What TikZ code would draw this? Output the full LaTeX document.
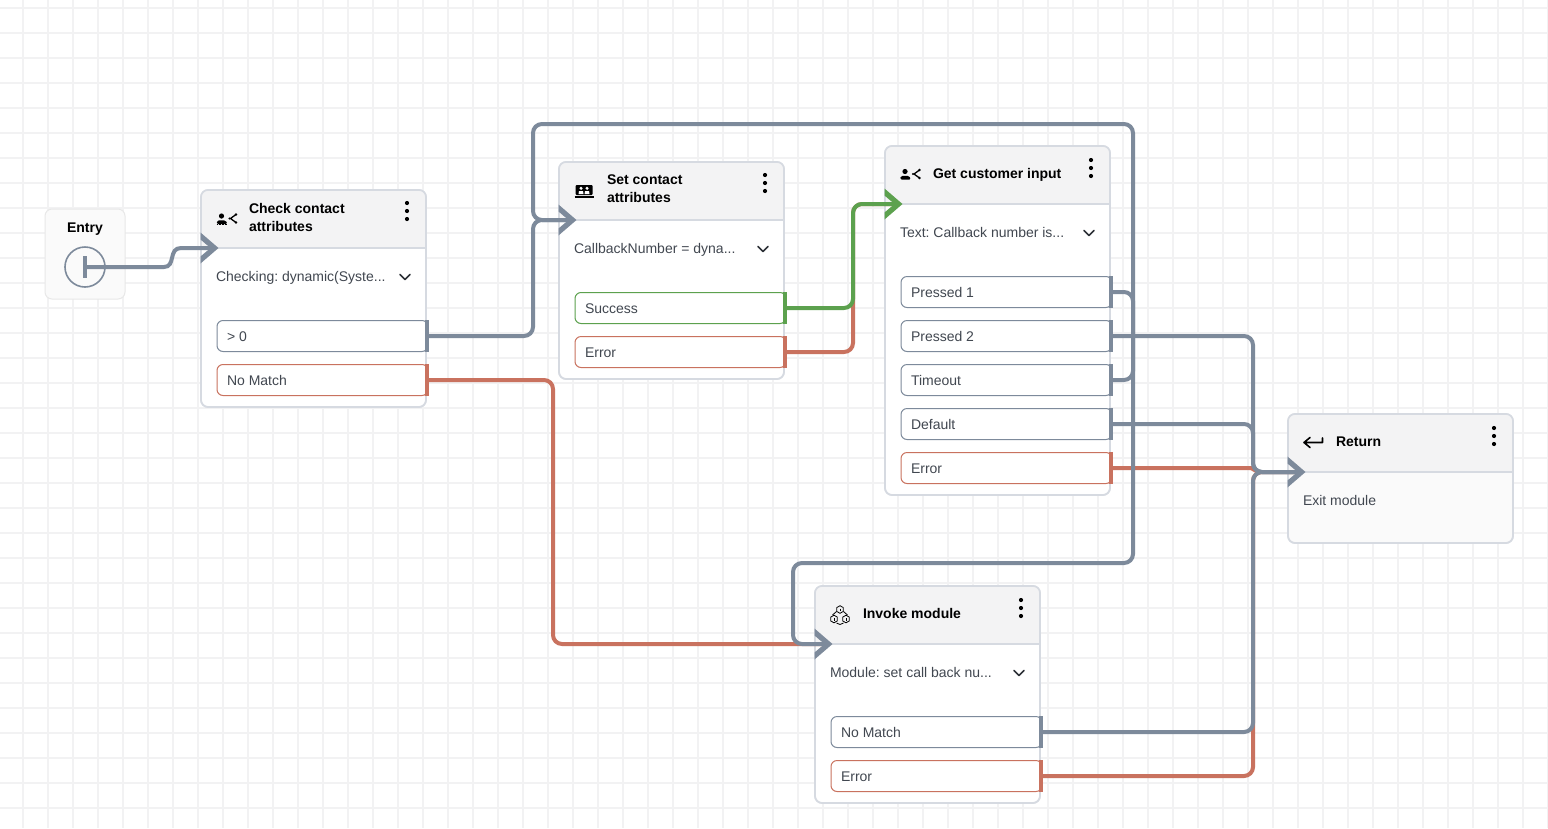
\documentclass[tikz,border=0pt]{standalone}
\usepackage{fontspec}
\setmainfont{Liberation Sans}
\frenchspacing
\definecolor{gridc}{HTML}{F2F2F3}
\definecolor{wireg}{HTML}{7D8A9B}
\definecolor{wirer}{HTML}{C9725F}
\definecolor{wireh}{HTML}{5CA14E}
\definecolor{edgec}{HTML}{D6DAE1}
\definecolor{headc}{HTML}{F3F3F4}
\definecolor{softc}{HTML}{FAFAFA}
\definecolor{textc}{HTML}{414750}
\tikzset{
  wire/.style={line width=4pt,rounded corners=9pt},
  cardshape/.style={rectangle,draw=edgec,line width=1.6pt,rounded corners=7pt,inner sep=0pt,outer sep=0pt,anchor=north west},
  porttag/.style={rectangle,line width=1pt,rounded corners=6pt,fill=white,inner sep=0pt,outer sep=0pt,anchor=north west,minimum width=211pt,minimum height=31pt},
  labeltext/.style={inner sep=0pt,outer sep=0pt,anchor=base west,font=\fontsize{14}{18}\selectfont,text=textc},
  titletext/.style={inner sep=0pt,outer sep=0pt,anchor=west,align=left,font=\fontsize{14}{18}\selectfont\bfseries,text=black},
  inkline/.style={line width=1.3pt,draw=black,line cap=round,line join=round}
}
% name, x, y, width, height, header bottom y, body colour
\newcommand{\cardbox}[7]{%
  \node[cardshape,fill=#7,minimum width=#4pt,minimum height=#5pt] (#1) at (#2,#3) {};
  \begin{scope}
    \clip[rounded corners=7pt] (#2,#3) rectangle ++(#4,#5);
    \fill[headc] (#2,#3) rectangle (#2+#4,#6);
  \end{scope}
  \draw[edgec,line width=1.6pt] (#2,#6) -- ++(#4,0);
  \node[cardshape,minimum width=#4pt,minimum height=#5pt] at (#2,#3) {};
}
% name, x, y, colour, text
\newcommand{\portbox}[5]{%
  \node[porttag,draw=#4] (#1) at (#2,#3+0.5) {};
  \fill[#4] (#2+208,#3) rectangle (#2+211.5,#3+32);
  \node[labeltext] (#1t) at (#2+10,#3+21) {#5};
}
% entry point: name, x, y, colour
\newcommand{\chevin}[4]{%
  \coordinate (#1) at (#2+12,#3);
  \fill[#4] (#2-0.5,#3-15.5) -- (#2+17.5,#3) -- (#2-0.5,#3+15.5) -- (#2-0.5,#3+8.5) -- (#2+9.5,#3) -- (#2-0.5,#3-8.5) -- cycle;
}
\newcommand{\kebab}[2]{%
  \foreach \kk in {-8,0,8} {\fill[black] (#1,#2+\kk) circle[radius=2.1pt];}
}
\newcommand{\dropmark}[2]{%
  \draw[line width=1.7pt,draw=textc!70!black,line cap=round,line join=round] (#1-5,#2-2.5) -- (#1,#2+2.5) -- (#1+5,#2-2.5);
}
% person with two branches, x,y = top left
\newcommand{\branchicon}[2]{%
  \fill[black] (#1+5,#2+3) circle[radius=2.6pt];
  \fill[black,rounded corners=1.5pt] (#1,#2+11) -- (#1+1,#2+7.3) -- (#1+9,#2+7.3) -- (#1+11,#2+11) -- cycle;
  \draw[inkline] (#1+19.5,#2+1.5) -- (#1+14,#2+5.5) -- (#1+19.5,#2+9.5);
  \fill[black] (#1+19.5,#2+1.5) circle[radius=1.4pt] (#1+19.5,#2+9.5) circle[radius=1.4pt] (#1+13,#2+5.5) circle[radius=1.2pt];
}
\newcommand{\hexa}[2]{%
  \draw (#1,#2-3.8) -- (#1+3.3,#2-1.9) -- (#1+3.3,#2+1.9) -- (#1,#2+3.8) -- (#1-3.3,#2+1.9) -- (#1-3.3,#2-1.9) -- cycle;
  \draw (#1,#2-1) -- (#1,#2+1.5);
}
\begin{document}
\begin{tikzpicture}[x=1pt,y=-1pt]
\useasboundingbox (0,0) rectangle (1548,828);
\fill[white] (0,0) rectangle (1548,828);
% canvas grid
\foreach \gx in {0,...,61} {\draw[gridc,line width=1.8pt] (23+25*\gx,0) -- (23+25*\gx,828);}
\foreach \gy in {0,...,32} {\draw[gridc,line width=1.8pt] (0,8+25*\gy) -- (1548,8+25*\gy);}

% Entry
\node[cardshape,draw=black!9,line width=1pt,fill=softc,minimum width=80pt,minimum height=90pt] (entry) at (45,209) {};
\node[inner sep=0pt,anchor=base,font=\fontsize{14}{18}\selectfont\bfseries] (entrylabel) at (85,232) {Entry};
\node[circle,draw=wireg,line width=1.6pt,fill=softc,minimum size=40pt,inner sep=0pt,outer sep=0pt] (entrydisc) at (85,267) {};
\fill[wireg] (83,256) rectangle (87,278);

% Cards
\cardbox{check}{201}{190}{225}{217}{248}{white}
\cardbox{setattr}{559}{162}{225}{217}{220}{white}
\cardbox{getinput}{885}{146}{225}{349}{204}{white}
\cardbox{invoke}{815}{586}{225}{217}{644}{white}
\cardbox{return}{1288}{414}{225}{129}{472}{softc}

% Ports
\portbox{checkA}{217}{320}{wireg}{> 0}
\portbox{checkB}{217}{364}{wirer}{No Match}
\portbox{setA}{575}{292}{wireh}{Success}
\portbox{setB}{575}{336}{wirer}{Error}
\portbox{getA}{901}{276}{wireg}{Pressed 1}
\portbox{getB}{901}{320}{wireg}{Pressed 2}
\portbox{getC}{901}{364}{wireg}{Timeout}
\portbox{getD}{901}{408}{wireg}{Default}
\portbox{getE}{901}{452}{wirer}{Error}
\portbox{invA}{831}{716}{wireg}{No Match}
\portbox{invB}{831}{760}{wirer}{Error}

% Titles and bodies
\node[titletext] (checktitle) at (249,217) {Check contact\\attributes};
\node[titletext] (settitle) at (607,189) {Set contact\\attributes};
\node[titletext,anchor=base west] (gettitle) at (933,178) {Get customer input};
\node[titletext,anchor=base west] (invtitle) at (863,618) {Invoke module};
\node[titletext,anchor=base west] (rettitle) at (1336,446) {Return};
\node[labeltext] (checkbody) at (216,281) {Checking: dynamic(Syste...};
\node[labeltext] (setbody) at (574,253) {CallbackNumber = dyna...};
\node[labeltext] (getbody) at (900,237) {Text: Callback number is...};
\node[labeltext] (invbody) at (830,677) {Module: set call back nu...};
\node[labeltext] (retbody) at (1303,505) {Exit module};

% Kebabs and drop marks
\kebab{407}{211} \kebab{765}{183} \kebab{1091}{168} \kebab{1021}{608} \kebab{1494}{436}
\dropmark{405}{277} \dropmark{763}{249} \dropmark{1089}{233} \dropmark{1019}{673}

% Icons
\branchicon{216.5}{213}
\draw[black,line width=1.2pt,dash pattern=on 1.8pt off 1pt] (216.5,224.8) -- (227.5,224.8);
\branchicon{900}{168.5}
\fill[black,rounded corners=1pt] (575.5,185) rectangle (592.5,195);
\fill[white] (581,188.3) circle[radius=1.7pt] (587,188.3) circle[radius=1.7pt];
\fill[white] (578.5,194) -- (579,191) -- (583,191) -- (583.5,194) -- cycle (584.5,194) -- (585,191) -- (589,191) -- (589.5,194) -- cycle;
\draw[black,line width=1.3pt] (574.5,197) -- (593.5,197);
\draw[inkline,line width=1.6pt] (1310,437.5) -- (1304,442.5) -- (1310,447.5) (1304,442.5) -- (1322.5,442.5) -- (1322.5,438);
\begin{scope}[line width=0.8pt,draw=black]
  \hexa{840}{609.5} \hexa{834}{619} \hexa{846}{619}
  \draw (836.5,611.5) -- (832.5,615) (843.5,611.5) -- (847.5,615) (836.5,623) .. controls (838.5,625) and (841.5,625) .. (843.5,623);
\end{scope}

% Arrival points of the wires
\coordinate (jointR) at (1258,472);
\coordinate (inCheck) at (213,248);
\coordinate (inSet) at (571,220);
\coordinate (inGet) at (897,204);
\coordinate (inInvoke) at (827,644);
\coordinate (inReturn) at (1300,472);

% Error wires, underneath
\draw[wire,wirer] (checkB.east) -| (553,644) -- (inInvoke);
\draw[wire,wirer] (setB.east) -| (853,204) -- (inGet);
\draw[wire,wirer,rounded corners=0pt] (getE.east) -- (1251,468) -- (jointR);
\draw[wire,wirer] (invB.east) -| (1253,472) -- (inReturn);

% Normal wires
\draw[wire,wireh] (setA.east) -| (853,204) -- (inGet);
\draw[wire,wireg,rounded corners=0pt] (entrydisc.center) -- (164,267) .. controls (176,267) and (168,248) .. (181,248) -- (inCheck);
\draw[wire,wireg] (checkA.east) -| (533,220) -- (inSet);
\draw[wire,wireg] (getC.east) -| (1133,124) -| (533,220) -- (inSet);
\draw[wire,wireg] (getA.east) -| (1133,563) -| (793,644) -- (inInvoke);
\draw[wire,wireg] (getB.east) -| (1253,472) -- (inReturn);
\draw[wire,wireg] (getD.east) -| (1253,472) -- (inReturn);
\draw[wire,wireg] (invA.east) -| (1253,472) -- (inReturn);

% Entry chevrons
\chevin{tipCheck}{201}{248}{wireg}
\chevin{tipSet}{559}{220}{wireg}
\chevin{tipGet}{885}{204}{wireh}
\chevin{tipInvoke}{815}{644}{wireg}
\chevin{tipReturn}{1288}{472}{wireg}
\end{tikzpicture}
\end{document}
